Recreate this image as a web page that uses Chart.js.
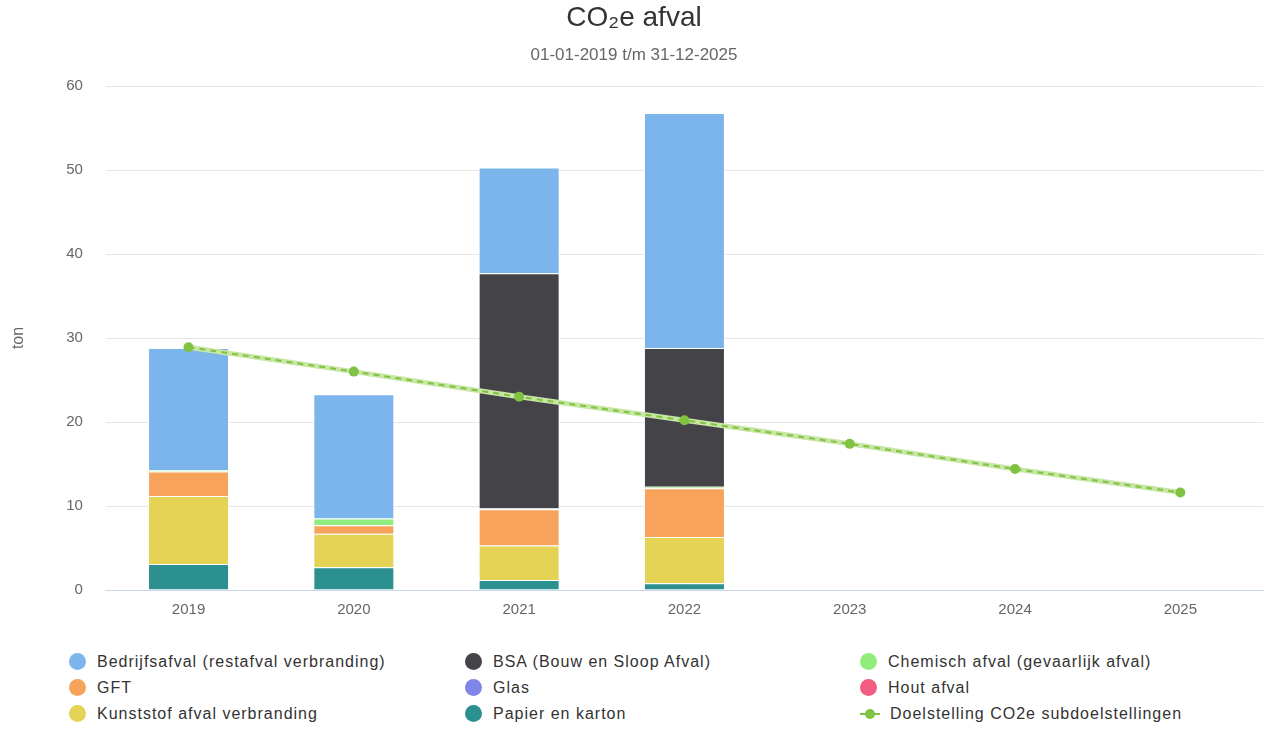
<!doctype html>
<html lang="nl">
<head>
  <meta charset="utf-8">
  <title>CO2e afval</title>
  <script src="https://cdn.jsdelivr.net/npm/chart.js"></script>
  <style>
    body { margin: 0; background: #fff; font-family: "Liberation Sans", Arial, sans-serif; }
    #wrap { position: relative; width: 1268px; height: 730px; }
    #legend { position: absolute; left: 0; top: 650px; width: 1268px; }
    .item { position: absolute; height: 24px; line-height: 24px; font-size: 16px; letter-spacing: 1px; color: #333; white-space: nowrap; }
    .dot { display: inline-block; width: 17px; height: 17px; border-radius: 50%; vertical-align: -3px; margin-right: 11px; }
    .linemark { display: inline-block; position: relative; width: 20px; height: 16px; vertical-align: -3px; margin-right: 10px; }
    .linemark:before { content: ""; position: absolute; left: 0; right: 0; top: 7px; height: 2px; background: #80c342; }
    .linemark:after { content: ""; position: absolute; left: 5px; top: 3px; width: 10px; height: 10px; border-radius: 50%; background: #80c342; }
  </style>
</head>
<body>
<div id="wrap">
  <canvas id="afvalChart" width="1268" height="640"></canvas>
  <div id="legend"></div>
</div>
<script>
  // data
  const years = ['2019', '2020', '2021', '2022', '2023', '2024', '2025'];
  const bedrijfsafval = [14.5, 14.8, 12.6, 28.0, null, null, null];
  const bsa = [0, 0, 28.0, 16.5, null, null, null];
  const chemisch = [0.2, 0.8, 0.1, 0.2, null, null, null];
  const gft = [2.9, 1.0, 4.3, 5.8, null, null, null];
  const glas = [0, 0, 0, 0, null, null, null];
  const hout = [0, 0, 0, 0, null, null, null];
  const kunststof = [8.1, 4.0, 4.1, 5.5, null, null, null];
  const papier = [3.1, 2.7, 1.2, 0.8, null, null, null];
  const doelstelling = [28.9, 26.0, 23.0, 20.2, 17.4, 14.4, 11.6];

  const seriesNames = [
    'Bedrijfsafval (restafval verbranding)', 'BSA (Bouw en Sloop Afval)', 'Chemisch afval (gevaarlijk afval)',
    'GFT', 'Glas', 'Hout afval',
    'Kunststof afval verbranding', 'Papier en karton', 'Doelstelling CO2e subdoelstellingen'
  ];
  const seriesColors = ['#7cb5ec', '#434348', '#90ed7d', '#f7a35c', '#8085e9', '#f15c80', '#e4d354', '#2b908f', '#80c342'];
  const seriesValues = [bedrijfsafval, bsa, chemisch, gft, glas, hout, kunststof, papier];

  // bars stacked bottom-up: last legend entry at the bottom
  const barSets = [];
  for (let i = seriesValues.length - 1; i >= 0; i--) {
    barSets.push({
      type: 'bar',
      label: seriesNames[i],
      data: seriesValues[i],
      backgroundColor: seriesColors[i],
      borderColor: '#ffffff',
      borderWidth: 1,
      stack: 'afval',
      order: 2
    });
  }

  const lineSets = [{
    type: 'line',
    label: seriesNames[8],
    data: doelstelling,
    borderColor: '#c8e6a5',
    borderWidth: 5,
    pointRadius: 0,
    stack: 'doel',
    order: 1
  }, {
    type: 'line',
    label: seriesNames[8] + ' ',
    data: doelstelling,
    borderColor: '#80c342',
    backgroundColor: '#80c342',
    borderWidth: 2,
    borderDash: [6, 5],
    pointRadius: 5,
    pointBackgroundColor: '#80c342',
    pointBorderWidth: 0,
    stack: 'doel2',
    order: 0
  }];

  const config = {
    data: { labels: years, datasets: barSets.concat(lineSets) },
    options: {
      responsive: false,
      animation: false,
      layout: { padding: { left: 5, right: 5, top: 0, bottom: 10 } },
      datasets: { bar: { categoryPercentage: 1, barPercentage: 0.49 } },
      plugins: {
        legend: { display: false },
        tooltip: { enabled: false },
        title: {
          display: true,
          text: 'CO₂e afval',
          color: '#333333',
          font: { family: 'Liberation Sans', size: 28, weight: 'normal' },
          padding: { top: 1, bottom: 11 }
        },
        subtitle: {
          display: true,
          text: '01-01-2019 t/m 31-12-2025',
          color: '#666666',
          font: { family: 'Liberation Sans', size: 17 },
          padding: { top: 0, bottom: 20 }
        }
      },
      scales: {
        x: {
          stacked: true,
          grid: { display: false, drawTicks: false },
          border: { color: '#ccd6eb', width: 1 },
          ticks: { color: '#666666', padding: 11, font: { family: 'Liberation Sans', size: 15 } }
        },
        y: {
          stacked: true,
          min: 0,
          max: 60,
          ticks: { stepSize: 10, color: '#666666', padding: 23, font: { family: 'Liberation Sans', size: 15 } },
          grid: { color: '#e6e6e6', drawTicks: false },
          border: { display: false },
          title: { display: true, text: 'ton', color: '#666666', font: { family: 'Liberation Sans', size: 16 }, padding: { bottom: 15 } }
        }
      }
    }
  };

  const afvalChart = new Chart(document.getElementById('afvalChart'), config);

  // legend in three columns, like the original
  const colLeft = [69, 465, 860];
  const legend = document.getElementById('legend');
  seriesNames.forEach(function (name, i) {
    const item = document.createElement('div');
    item.className = 'item';
    item.style.left = colLeft[i % 3] + 'px';
    item.style.top = (Math.floor(i / 3) * 26) + 'px';
    const mark = document.createElement('span');
    if (i === 8) {
      mark.className = 'linemark';
    } else {
      mark.className = 'dot';
      mark.style.background = seriesColors[i];
    }
    item.appendChild(mark);
    item.appendChild(document.createTextNode(name));
    legend.appendChild(item);
  });
</script>
</body>
</html>
